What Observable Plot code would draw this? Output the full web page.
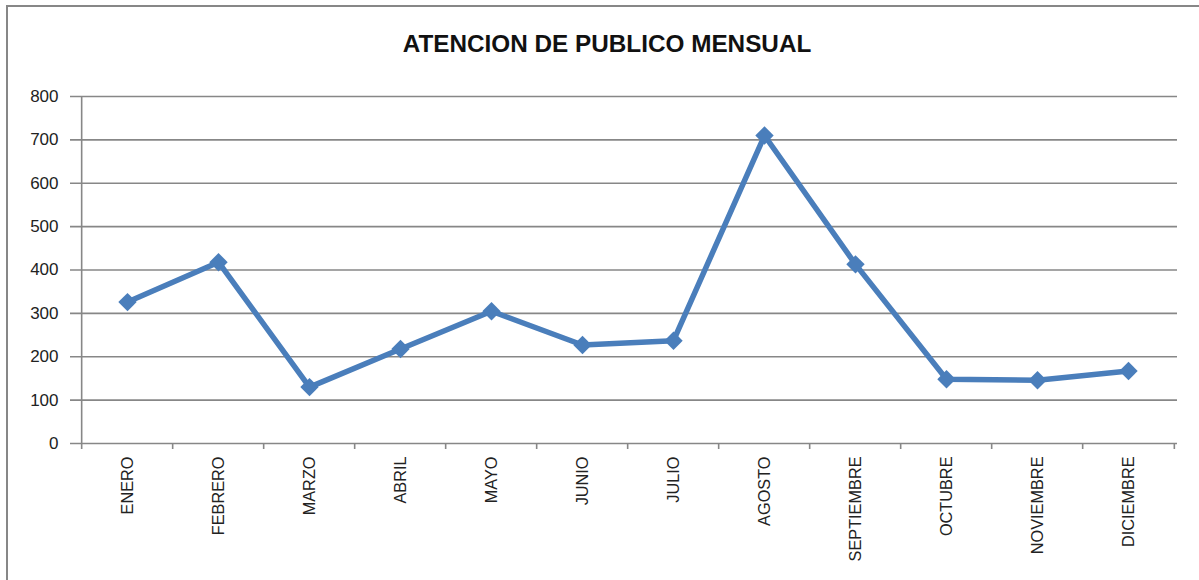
<!DOCTYPE html>
<html><head><meta charset="utf-8">
<script src="https://cdn.jsdelivr.net/npm/d3@7"></script>
<script src="https://cdn.jsdelivr.net/npm/@observablehq/plot@0.6"></script>
<style>
body{margin:0;background:#fff;}
#wrap{position:relative;width:1199px;height:580px;overflow:hidden;background:#fff;}
#border{position:absolute;left:6px;top:5px;width:1300px;height:700px;border:2px solid #878787;}
#title{position:absolute;left:0;width:1214px;top:30px;text-align:center;font:bold 24.3px "Liberation Sans";color:#111;}
#chart{position:absolute;left:0;top:0;line-height:0;}
</style></head><body>
<div id="wrap"><div id="border"></div><div id="title">ATENCION DE PUBLICO MENSUAL</div><div id="chart"></div></div>
<script>
const months = ["ENERO","FEBRERO","MARZO","ABRIL","MAYO","JUNIO","JULIO","AGOSTO","SEPTIEMBRE","OCTUBRE","NOVIEMBRE","DICIEMBRE"];
const visits = [326, 418, 130, 218, 305, 227, 237, 710, 413, 148, 146, 167];
const yTicks = [0, 100, 200, 300, 400, 500, 600, 700, 800];

const data = months.map((m, i) => ({month: m, value: visits[i]}));
const W = 1199, H = 580, ML = 77, MR = 22, MT = 96, MB = 137;
const step = (W - ML - MR) / months.length;
const lineColor = "#4a7ebb";
const gridColor = "#878787";

const chart = Plot.plot({
  width: W, height: H,
  marginLeft: ML, marginRight: MR, marginTop: MT, marginBottom: MB,
  style: {background: "transparent", overflow: "visible"},
  x: {type: "point", domain: months, padding: 0.5, align: 0.5, axis: null, label: null},
  y: {domain: [0, 800], axis: null, label: null},
  marks: [
    Plot.gridY(yTicks, {stroke: gridColor, strokeOpacity: 1, strokeWidth: 1.6, insetLeft: -7}),
    Plot.ruleX([months[0]], {dx: -step / 2, stroke: gridColor, strokeWidth: 1.6, insetBottom: -6}),
    Plot.ruleX(months.slice(1), {dx: -step / 2, y1: 0, y2: 0, stroke: gridColor, strokeWidth: 1.6, insetBottom: -6}),
    Plot.ruleX([months[months.length - 1]], {dx: step / 2, y1: 0, y2: 0, stroke: gridColor, strokeWidth: 1.6, insetBottom: -6}),
    Plot.axisY(yTicks, {tickSize: 0, tickPadding: 19, fontSize: 17, fill: "#222", fontFamily: "Liberation Sans", label: null}),
    Plot.axisX(months, {tickSize: 0, tickPadding: 13, tickRotate: -90, fontSize: 16.3, fill: "#222", fontFamily: "Liberation Sans", label: null}),
    Plot.line(data, {x: "month", y: "value", stroke: lineColor, strokeWidth: 5.5, strokeLinejoin: "round"}),
    Plot.dot(data, {x: "month", y: "value", symbol: d3.symbolDiamond2, r: 8.3, fill: lineColor, stroke: "none"})
  ]
});
document.getElementById("chart").appendChild(chart);
</script>
</body></html>
